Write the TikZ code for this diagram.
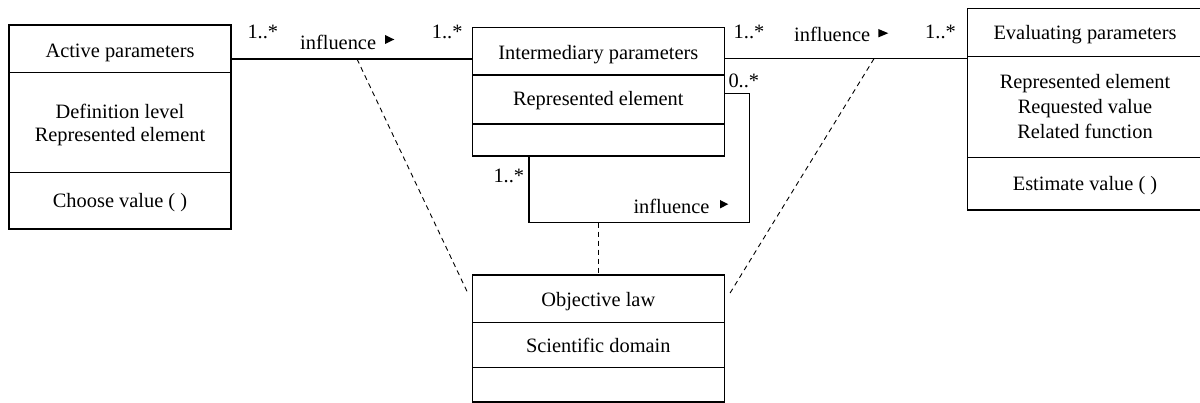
\documentclass[tikz,border=0pt]{standalone}
\usepackage{fontspec}
\setmainfont{Liberation Serif}
\begin{document}
\begin{tikzpicture}[x=1pt,y=-1pt,
  comp/.style={draw, line width=1.3pt, inner sep=0pt, align=center,
    font=\fontsize{20.4}{24}\selectfont, text height=15pt, text depth=0pt},
  lbl/.style={inner sep=0pt, anchor=base west, font=\fontsize{20.4}{24}\selectfont},
  assoc/.style={line width=1.3pt},
  dep/.style={line width=0.9pt, dash pattern=on 5pt off 4pt},
  tri/.style={fill=black}
]
\useasboundingbox (0,0) rectangle (1200,403);

% Active parameters
\node[comp, minimum width=222pt, minimum height=47.7pt, text height=17pt] (A1) at (120,48.85) {Active parameters};
\node[comp, minimum width=222pt, minimum height=100pt, text height=38pt, text depth=0pt, font=\fontsize{20.4}{23.4}\selectfont] (A2) at (120,122.7) {Definition level\\Represented element};
\node[comp, minimum width=222pt, minimum height=56.3pt, text height=13pt] (A3) at (120,200.85) {Choose value ( )};

% Intermediary parameters
\node[comp, minimum width=252pt, minimum height=47.7pt, text height=16.4pt] (I1) at (598.3,51.15) {Intermediary parameters};
\node[comp, minimum width=252pt, minimum height=49pt, text height=13pt] (I2) at (598.3,99.5) {Represented element};
\node[comp, minimum width=252pt, minimum height=32pt] (I3) at (598.3,140) {};

% Evaluating parameters
\node[comp, minimum width=235pt, minimum height=48.4pt] (E1) at (1085,32.5) {Evaluating parameters};
\node[comp, minimum width=235pt, minimum height=100.6pt, text height=62.6pt, text depth=0pt, font=\fontsize{20.4}{25}\selectfont] (E2) at (1085,107) {Represented element\\Requested value\\Related function};
\node[comp, minimum width=235pt, minimum height=52.7pt, text height=14pt] (E3) at (1085,183.65) {Estimate value ( )};

% Objective law
\node[comp, minimum width=252pt, minimum height=47.7pt, text height=15.6pt] (O1) at (598.3,298.85) {Objective law};
\node[comp, minimum width=252pt, minimum height=44.6pt, text height=15.4pt] (O2) at (598.3,345) {Scientific domain};
\node[comp, minimum width=252pt, minimum height=34.7pt] (O3) at (598.3,384.65) {};

% association levels
\coordinate (yA) at (0,59);
\coordinate (yB) at (0,58.7);
\draw[assoc] (A1.east |- yA) -- (I1.west |- yA);
\draw[assoc] (I1.east |- yB) -- (E2.west |- yB);

% self association loop
\coordinate (lp1) at (749.3,93.3);
\coordinate (lp2) at (749.3,222.7);
\coordinate (lp3) at (529,222.7);
\draw[assoc] (I2.east |- lp1) -- (lp1) -- (lp2) -- (lp3) -- (lp3 |- I3.south);

% dependency lines to association class
\coordinate (d1) at (357,59);
\coordinate (d2) at (874,58.7);
\draw[dep] (d1) -- ([xshift=-3pt,yshift=4pt]O1.west);
\draw[dep] (d2) -- ([xshift=4pt,yshift=4pt]O1.east);
\draw[dep] (O1.north |- lp2) -- (O1.north);

% labels
\node[lbl] (m1) at (247.3,38.3) {1..*};
\node[lbl] (n1) at (300,50) {influence};
\node[lbl] (m2) at (431.7,38.3) {1..*};
\node[lbl] (m3) at (733.5,38.3) {1..*};
\node[lbl] (n2) at (794,42) {influence};
\node[lbl] (m4) at (925,38.3) {1..*};
\node[lbl] (m5) at (728.3,87.7) {0..*};
\node[lbl] (m6) at (493.3,182.7) {1..*};
\node[lbl] (n3) at (633.3,213.3) {influence};

% direction triangles
\fill[tri] (385,35) -- (394.3,39.5) -- (385,44) -- cycle;
\fill[tri] (878.3,29) -- (888.3,33.2) -- (878.3,37.4) -- cycle;
\fill[tri] (720,200) -- (728.3,204.2) -- (720,208.4) -- cycle;
\end{tikzpicture}
\end{document}
